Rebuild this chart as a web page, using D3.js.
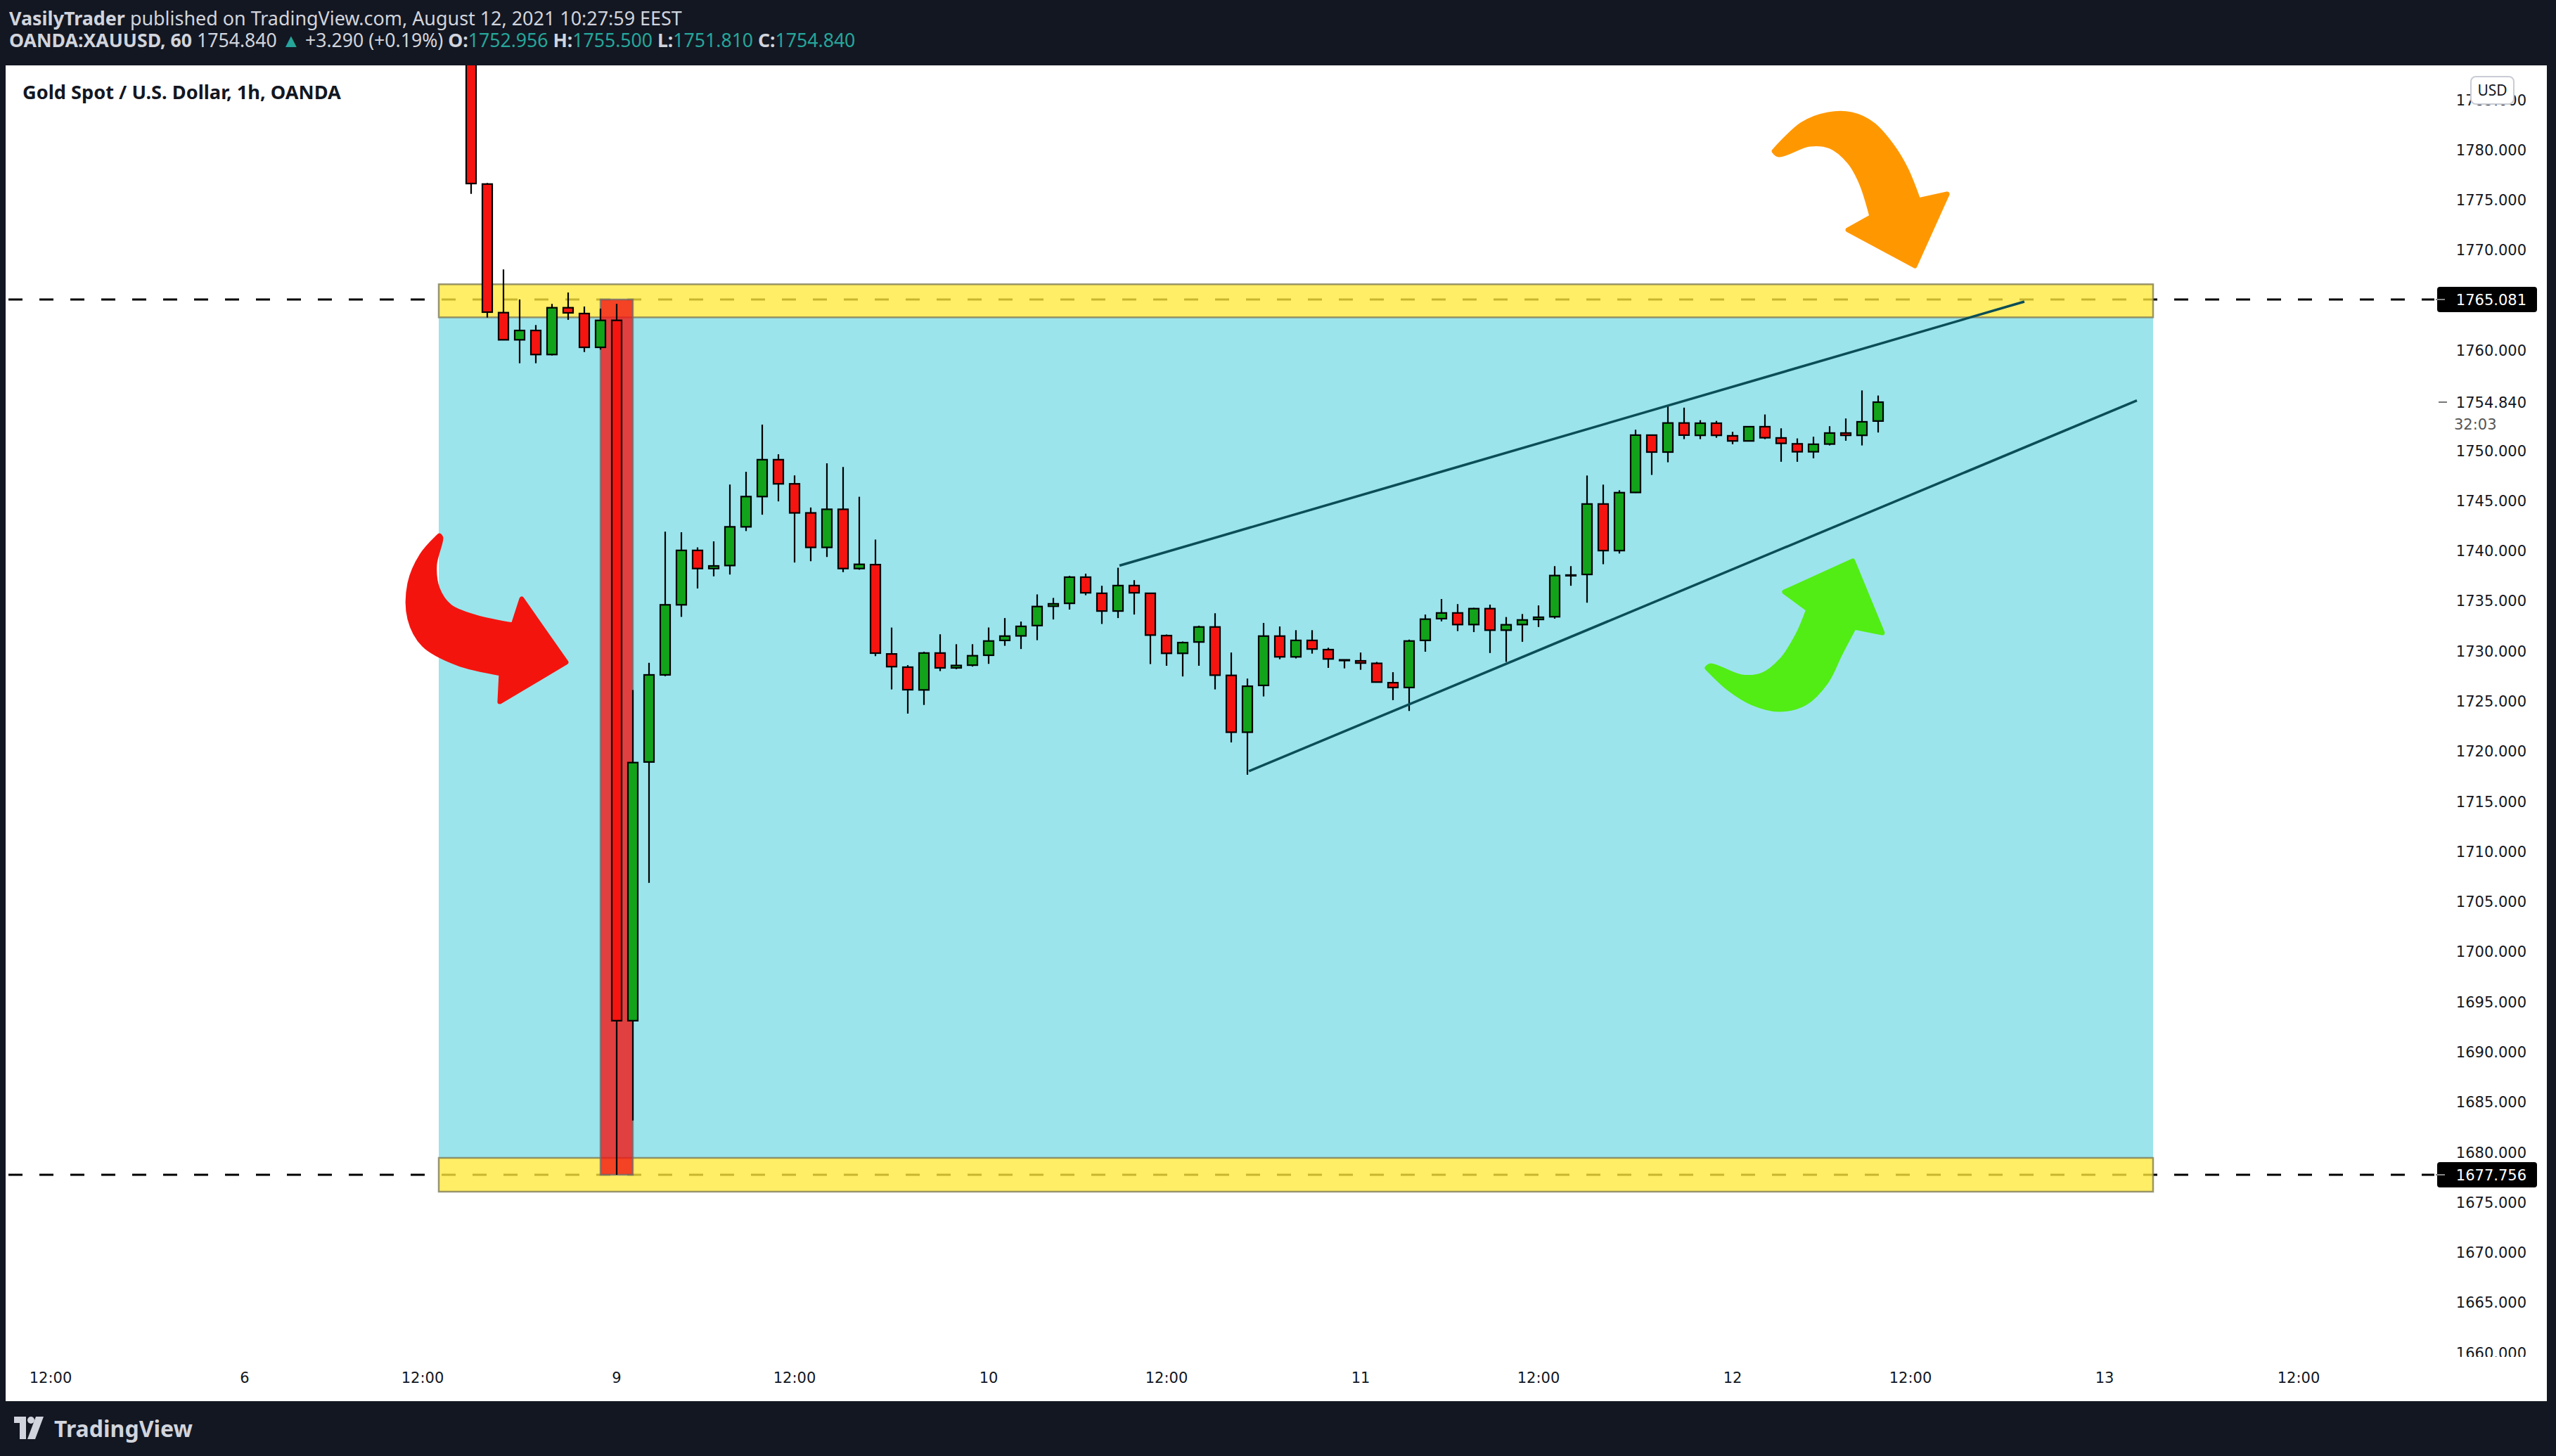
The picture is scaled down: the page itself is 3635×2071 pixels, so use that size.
<!DOCTYPE html>
<html><head><meta charset="utf-8">
<script src="https://cdn.jsdelivr.net/npm/d3@7"></script>
<style>html,body{margin:0;padding:0;background:#131722;overflow:hidden}svg{display:block}</style>
</head><body><div id="chart"></div>
<script>
// ---------------- DATA ----------------
const barIdx = d3.range(14, 102);
const openP  = [1803.5,1776.6,1763.77,1761.06,1761.99,1759.59,1764.26,1763.68,1760.31,1763.0,
  1693.13,1718.94,1727.63,1734.62,1740.05,1738.24,1738.54,1742.4,1745.42,1749.1,
  1746.69,1743.79,1740.35,1744.15,1738.24,1738.63,1729.72,1728.4,1726.13,1729.81,
  1728.33,1728.6,1729.59,1731.07,1731.52,1732.55,1734.48,1734.77,1737.38,1735.77,
  1734.0,1736.54,1735.77,1731.55,1729.78,1730.91,1732.41,1727.58,1721.91,1726.58,
  1731.5,1729.43,1731.07,1730.15,1729.13,1729.03,1728.78,1726.85,1726.37,1731.07,
  1733.24,1733.81,1732.65,1734.24,1732.09,1732.65,1733.16,1733.43,1737.59,1737.65,
  1744.68,1740.03,1745.83,1751.55,1749.86,1752.76,1751.53,1752.74,1751.48,1750.97,
  1752.39,1751.27,1750.68,1749.89,1750.66,1751.76,1751.53,1752.956];
const highP  = [1805.0,1776.7,1768.08,1765.08,1762.53,1764.64,1765.78,1764.38,1764.17,1764.64,
  1726.12,1728.83,1741.92,1741.86,1740.35,1740.95,1746.62,1747.89,1752.6,1749.64,
  1747.53,1744.33,1748.74,1748.37,1745.4,1741.13,1732.35,1728.6,1729.94,1731.68,
  1730.69,1730.69,1732.36,1733.3,1732.95,1735.66,1735.31,1737.51,1737.73,1736.52,
  1738.32,1737.08,1735.8,1731.66,1730.96,1732.54,1733.78,1729.86,1727.26,1732.81,
  1732.46,1732.09,1732.09,1730.34,1729.13,1729.86,1728.92,1727.9,1731.15,1733.65,
  1735.2,1734.69,1734.32,1734.64,1733.4,1733.7,1734.56,1738.48,1738.48,1747.52,
  1746.61,1746.05,1752.09,1751.6,1754.45,1754.29,1753.04,1752.97,1751.88,1752.44,
  1753.61,1752.23,1751.22,1751.39,1752.44,1753.21,1756.01,1755.5];
const lowP   = [1775.62,1763.28,1761.06,1758.72,1758.72,1759.5,1763.05,1759.84,1760.08,1677.756,
  1683.17,1706.88,1727.5,1733.42,1736.25,1737.46,1737.64,1741.98,1743.61,1744.94,
  1738.84,1738.97,1739.39,1737.88,1738.12,1729.5,1726.18,1723.77,1724.63,1728.01,
  1728.2,1728.46,1728.73,1730.53,1730.21,1731.09,1733.16,1734.15,1735.58,1732.71,
  1733.3,1733.65,1728.71,1728.54,1727.47,1728.54,1726.18,1720.89,1717.67,1725.48,
  1729.19,1729.27,1729.75,1728.33,1728.28,1728.14,1726.9,1725.11,1724.03,1729.94,
  1732.97,1732.0,1731.9,1729.81,1728.92,1730.93,1732.41,1733.24,1736.52,1734.83,
  1738.67,1739.74,1745.78,1747.58,1748.84,1751.15,1751.15,1751.29,1750.64,1750.95,
  1751.15,1748.89,1748.89,1749.24,1750.52,1750.99,1750.52,1751.81];
const closeP = [1776.65,1763.82,1761.06,1761.99,1759.59,1764.26,1763.75,1760.31,1763.0,1693.13,
  1718.88,1727.63,1734.62,1740.05,1738.24,1738.5,1742.4,1745.42,1749.1,1746.69,
  1743.79,1740.35,1744.15,1738.24,1738.66,1729.8,1728.45,1726.15,1729.81,1728.33,
  1728.57,1729.54,1731.01,1731.5,1732.47,1734.45,1734.72,1737.38,1735.82,1734.0,
  1736.54,1735.82,1731.6,1729.78,1730.85,1732.41,1727.6,1721.91,1726.5,1731.5,
  1729.43,1731.07,1730.21,1729.22,1729.13,1728.81,1726.91,1726.37,1731.01,1733.19,
  1733.81,1732.65,1734.24,1732.09,1732.63,1733.11,1733.38,1737.54,1737.59,1744.68,
  1740.03,1745.81,1751.55,1749.86,1752.76,1751.55,1752.74,1751.53,1750.97,1752.39,
  1751.29,1750.73,1749.89,1750.64,1751.76,1751.53,1752.88,1754.84];

const timeTickIdx    = [-12, 0, 11, 23, 34, 46, 57, 69, 80, 92, 103, 115, 127];
const timeTickLabels = ["12:00","6","12:00","9","12:00","10","12:00","11","12:00","12","12:00","13","12:00"];
const priceTicks = [1785,1780,1775,1770,1760,1750,1745,1740,1735,1730,1725,1720,1715,1710,1705,
  1700,1695,1690,1685,1680,1675,1670,1665,1660];
const levelPrices = [1765.081, 1677.756];
const levelLabels = ["1765.081", "1677.756"];
const zoneBands = [[1766.6, 1763.3], [1679.44, 1676.07]];   // yellow bands (price top, bottom)
const zoneIdx = [12, 118];                                   // bar span of zone
const crashIdx = [22, 24];                                   // red highlight span
const upperTrend = [[54.09, 1738.53], [110.04, 1764.87]];
const lowerTrend = [[62.09, 1718.02], [117.0, 1755.0]];
const lastPrice = 1754.840, lastPriceLabel = "1754.840", countdown = "32:03";

// ---------------- SETUP ----------------
const W = 3635, H = 2071;
const pane = {l: 8, r: 3462, t: 93, b: 1930};
const x = d3.scaleLinear().domain([0, 100]).range([348, 2648]);
const y = d3.scaleLinear().domain([1765.081, 1677.756]).range([426, 1671]);

const svg = d3.select("#chart").append("svg").attr("width", W).attr("height", H);
svg.append("rect").attr("width", W).attr("height", H).attr("fill", "#131722");
svg.append("rect").attr("x", 8).attr("y", 93).attr("width", 3614).attr("height", 1900).attr("fill", "#ffffff");

const defs = svg.append("defs");
defs.append("clipPath").attr("id", "paneClip").append("rect")
  .attr("x", pane.l).attr("y", pane.t).attr("width", pane.r - pane.l).attr("height", pane.b - pane.t);
defs.append("clipPath").attr("id", "axisClip").append("rect")
  .attr("x", pane.r).attr("y", pane.t).attr("width", 3622 - pane.r).attr("height", pane.b - pane.t);

const g = svg.append("g").attr("clip-path", "url(#paneClip)");

// blue zone
g.append("rect")
  .attr("x", x(zoneIdx[0])).attr("width", x(zoneIdx[1]) - x(zoneIdx[0]))
  .attr("y", y(zoneBands[0][1])).attr("height", y(zoneBands[1][0]) - y(zoneBands[0][1]))
  .attr("fill", "#9be4ec");

// dashed level lines
g.selectAll("line.level").data(levelPrices).join("line").attr("class", "level")
  .attr("x1", 12).attr("x2", 3466).attr("y1", d => y(d)).attr("y2", d => y(d))
  .attr("stroke", "#000").attr("stroke-width", 3).attr("stroke-dasharray", "20,24");

// yellow bands
g.selectAll("rect.band").data(zoneBands).join("rect").attr("class", "band")
  .attr("x", x(zoneIdx[0])).attr("width", x(zoneIdx[1]) - x(zoneIdx[0]))
  .attr("y", d => y(d[0])).attr("height", d => y(d[1]) - y(d[0]))
  .attr("fill", "rgba(255,233,59,0.78)").attr("stroke", "rgba(120,116,80,0.75)").attr("stroke-width", 2.5);

// red crash highlight
g.append("rect")
  .attr("x", x(crashIdx[0])).attr("width", x(crashIdx[1]) - x(crashIdx[0]))
  .attr("y", y(levelPrices[0])).attr("height", y(levelPrices[1]) - y(levelPrices[0]))
  .attr("fill", "rgba(241,23,21,0.8)").attr("stroke", "rgba(110,110,110,0.75)").attr("stroke-width", 2.5);

// candles
const candles = barIdx.map((d, k) => ({i: d, o: openP[k], h: highP[k], l: lowP[k], c: closeP[k]}));
const cg = g.append("g");
cg.selectAll("line.wick").data(candles).join("line").attr("class", "wick")
  .attr("x1", d => x(d.i)).attr("x2", d => x(d.i))
  .attr("y1", d => y(d.h)).attr("y2", d => y(d.l))
  .attr("stroke", "#000").attr("stroke-width", 2.2);
cg.selectAll("rect.body").data(candles).join("rect").attr("class", "body")
  .attr("x", d => x(d.i) - 7).attr("width", 14)
  .attr("y", d => y(Math.max(d.o, d.c)))
  .attr("height", d => Math.max(1, y(Math.min(d.o, d.c)) - y(Math.max(d.o, d.c))))
  .attr("fill", d => d.c > d.o ? "#12a31b" : (d.c < d.o ? "#f5140f" : "#000"))
  .attr("stroke", "#000").attr("stroke-width", 2.2);

// trendlines
g.selectAll("line.trend").data([upperTrend, lowerTrend]).join("line").attr("class", "trend")
  .attr("x1", d => x(d[0][0])).attr("y1", d => y(d[0][1]))
  .attr("x2", d => x(d[1][0])).attr("y2", d => y(d[1][1]))
  .attr("stroke", "#0b4e57").attr("stroke-width", 3.5);

// curved arrows (shape in local px around an anchor in data coordinates)
const arrows = [
  {anchor: [94.57, 1779.88], color: "#ff9800",
   outer: [[0,0],[40,-38],[77,-52],[110,-52],[140,-38],[167,-8],[187,25],[205,70]],
   head: [[246,61],[200,163],[105,112],[139,93]],
   inner: [[139,93],[124,45],[107,15],[80,-7],[50,-10],[7,5],[0,0]]},
  {anchor: [12.04, 1741.51], color: "#f4140e",
   outer: [[0,0],[-25,28],[-42,68],[-42,118],[-22,155],[25,181],[88,196]],
   head: [[86,236],[180,180],[117,90],[105,127]],
   inner: [[105,127],[52,116],[15,101],[-3,75],[-7,41],[2,3],[0,0]]},
  {anchor: [90.43, 1728.33], color: "#52ed14",
   outer: [[0,0],[32,30],[65,50],[102,59],[139,50],[169,20],[189,-20],[209,-58]],
   head: [[249,-50],[207,-152],[110,-108],[144,-83]],
   inner: [[144,-83],[129,-47],[105,-10],[79,10],[49,13],[5,-3],[0,0]]}
];
const cr = d3.line().curve(d3.curveCatmullRom.alpha(0.5));
function arrowPath(a) {
  let p = cr(a.outer);
  a.head.forEach(pt => p += "L" + pt[0] + "," + pt[1]);
  p += cr(a.inner).replace(/^M/, "L");
  return p + "Z";
}
g.selectAll("path.arrow").data(arrows).join("path").attr("class", "arrow")
  .attr("transform", d => `translate(${x(d.anchor[0])},${y(d.anchor[1])})`)
  .attr("d", arrowPath).attr("fill", d => d.color)
  .attr("stroke", d => d.color).attr("stroke-width", 7).attr("stroke-linejoin", "round");

// ---------------- PRICE AXIS ----------------
const axisFont = "'DejaVu Sans', Verdana, sans-serif";
const ax = svg.append("g").attr("clip-path", "url(#axisClip)");
ax.selectAll("text.pt").data(priceTicks).join("text").attr("class", "pt")
  .attr("x", 3593).attr("y", d => y(d) + 7.5).attr("text-anchor", "end")
  .attr("font-family", axisFont).attr("font-size", 21).attr("fill", "#131722")
  .text(d => d3.format(".3f")(d));

// level label boxes
const lb = svg.selectAll("g.lvl").data(levelPrices).join("g").attr("class", "lvl");
lb.append("rect").attr("x", 3466).attr("width", 142).attr("y", d => y(d) - 18).attr("height", 36)
  .attr("rx", 4).attr("fill", "#000");
lb.append("line").attr("x1", 3464).attr("x2", 3477).attr("y1", d => y(d)).attr("y2", d => y(d))
  .attr("stroke", "#888").attr("stroke-width", 2);
lb.append("text").attr("x", 3593).attr("y", d => y(d) + 7.5).attr("text-anchor", "end")
  .attr("font-family", axisFont).attr("font-size", 21).attr("fill", "#fff")
  .text((d, k) => levelLabels[k]);

// last price
svg.append("line").attr("x1", 3468).attr("x2", 3480).attr("y1", y(lastPrice)).attr("y2", y(lastPrice))
  .attr("stroke", "#777").attr("stroke-width", 2);
svg.append("text").attr("x", 3593).attr("y", y(lastPrice) + 7.5).attr("text-anchor", "end")
  .attr("font-family", axisFont).attr("font-size", 21).attr("fill", "#131722").text(lastPriceLabel);
svg.append("text").attr("x", 3490).attr("y", y(lastPrice) + 39)
  .attr("font-family", axisFont).attr("font-size", 21).attr("fill", "#555").text(countdown);

// USD badge
svg.append("rect").attr("x", 3514).attr("y", 109).attr("width", 61).attr("height", 39).attr("rx", 7)
  .attr("fill", "#fff").attr("stroke", "#c9ccd4").attr("stroke-width", 2);
svg.append("text").attr("x", 3544.5).attr("y", 136).attr("text-anchor", "middle")
  .attr("font-family", "'Noto Sans', sans-serif").attr("font-size", 21).attr("fill", "#131722").text("USD");

// ---------------- TIME AXIS ----------------
svg.selectAll("text.tt").data(timeTickIdx).join("text").attr("class", "tt")
  .attr("x", d => x(d)).attr("y", 1967).attr("text-anchor", "middle")
  .attr("font-family", axisFont).attr("font-size", 21).attr("fill", "#131722")
  .text((d, k) => timeTickLabels[k]);

// ---------------- HEADER ----------------
const hf = "'Noto Sans', 'Open Sans', sans-serif";
function fitWidth(sel, target) {
  const w = sel.node().getBBox().width;
  const fs = parseFloat(sel.attr("font-size"));
  sel.attr("font-size", fs * target / w);
}
const h1 = svg.append("text").attr("x", 13).attr("y", 36).attr("font-family", hf).attr("font-size", 26).attr("fill", "#d1d4dc");
h1.append("tspan").attr("font-weight", "bold").text("VasilyTrader");
h1.append("tspan").text(" published on TradingView.com, August 12, 2021 10:27:59 EEST");
fitWidth(h1, 958);

const teal = "#26a69a";
const h2 = svg.append("text").attr("x", 13).attr("y", 67).attr("font-family", hf).attr("font-size", 26).attr("fill", "#d1d4dc");
[["OANDA:XAUUSD, 60 ", "bold", null], ["1754.840 ", null, null], ["▲", null, teal], [" +3.290 (+0.19%) ", null, null],
 ["O:", "bold", null], ["1752.956 ", null, teal], ["H:", "bold", null], ["1755.500 ", null, teal],
 ["L:", "bold", null], ["1751.810 ", null, teal], ["C:", "bold", null], ["1754.840", null, teal]]
  .forEach(s => {
    const t = h2.append("tspan").text(s[0]);
    if (s[1]) t.attr("font-weight", s[1]);
    if (s[2]) t.attr("fill", s[2]);
  });
fitWidth(h2, 1204);

const title = svg.append("text").attr("x", 32).attr("y", 141).attr("font-family", hf)
  .attr("font-size", 26).attr("font-weight", "bold").attr("fill", "#131722")
  .text("Gold Spot / U.S. Dollar, 1h, OANDA");
fitWidth(title, 453);

// ---------------- LOGO ----------------
const logo = svg.append("g").attr("transform", "translate(20,2015)").attr("fill", "#d1d4dc");
logo.append("path").attr("d", "M0,0 H17 V32 H8 V9 H0 Z");
logo.append("circle").attr("cx", 24).attr("cy", 5).attr("r", 5);
logo.append("path").attr("d", "M31,0 H42 L30,32 H19 Z");
const lt = svg.append("text").attr("x", 77).attr("y", 2044).attr("font-family", hf)
  .attr("font-size", 34).attr("font-weight", "bold").attr("fill", "#d1d4dc").text("TradingView");
fitWidth(lt, 197);
</script>
</body></html>
